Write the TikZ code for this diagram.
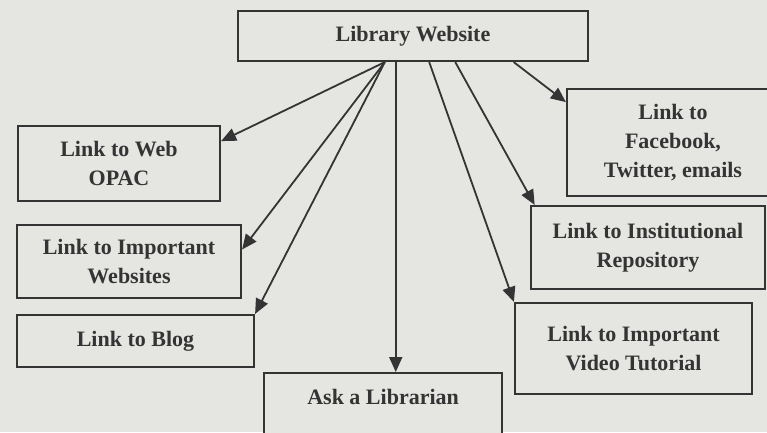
\documentclass[tikz,border=0pt]{standalone}
\usepackage{fontspec}
\setmainfont{Liberation Serif}
\usetikzlibrary{arrows.meta,calc}
\definecolor{paper}{RGB}{229,230,226}
\definecolor{ink}{RGB}{52,52,52}

\begin{document}
\begin{tikzpicture}[x=1pt,y=-1pt,
  box/.style={draw=ink,line width=2.2pt,fill=paper,inner sep=0pt,align=center,
    text=ink,font=\fontsize{22}{29}\selectfont\bfseries},
  link/.style={draw=ink,line width=1.8pt,-{Triangle[length=15pt,width=13pt]}}]
\clip (0,0) rectangle (767,432);
\fill[paper] (0,0) rectangle (767,432);
%top box
\node[box,minimum width=350,minimum height=50] (lib) at (413,36) {Library Website};
%left column
\node[box,minimum width=202,minimum height=75] (opac) at (119,163.5) {Link to Web\\OPAC};
\node[box,minimum width=224,minimum height=73] (web) at (129,261.5) {Link to Important\\Websites};
\node[box,minimum width=237,minimum height=52] (blog) at (135.5,341) {Link to Blog};
%bottom
\node[box,anchor=north west,minimum width=238,text height=31,text depth=60] (ask) at (263,372) {Ask a Librarian};
%right column
\node[box,minimum width=212,minimum height=107] (fb) at (673,142.5) {Link to\\Facebook,\\Twitter, emails};
\node[box,minimum width=234,minimum height=83] (inst) at (648,247.5) {Link to Institutional\\Repository};
\node[box,minimum width=237,minimum height=91] (video) at (633.5,348.5) {Link to Important\\Video Tutorial};

%start points on the top box
\coordinate (hub) at ($(lib.south west)!0.42!(lib.south east)$);
\coordinate (down) at ($(lib.south west)!0.451!(lib.south east)$);
\coordinate (s3) at ($(lib.south west)!0.546!(lib.south east)$);
\coordinate (s4) at ($(lib.south west)!0.62!(lib.south east)$);
\coordinate (s5) at ($(lib.south west)!0.786!(lib.south east)$);

\draw[link] (hub) -- ($(opac.north east)!0.21!(opac.south east)$);
\draw[link] (hub) -- ($(web.north east)!0.34!(web.south east)$);
\draw[link] (hub) -- (blog.north east);
\draw[link] (down) -- (down |- ask.north);
\draw[link] (s3) -- (video.north west);
\draw[link] (s4) -- ($(inst.north west)!0.02!(inst.north east)$);
\draw[link] (s5) -- ($(fb.north west)!0.13!(fb.south west)$);
\end{tikzpicture}
\end{document}
